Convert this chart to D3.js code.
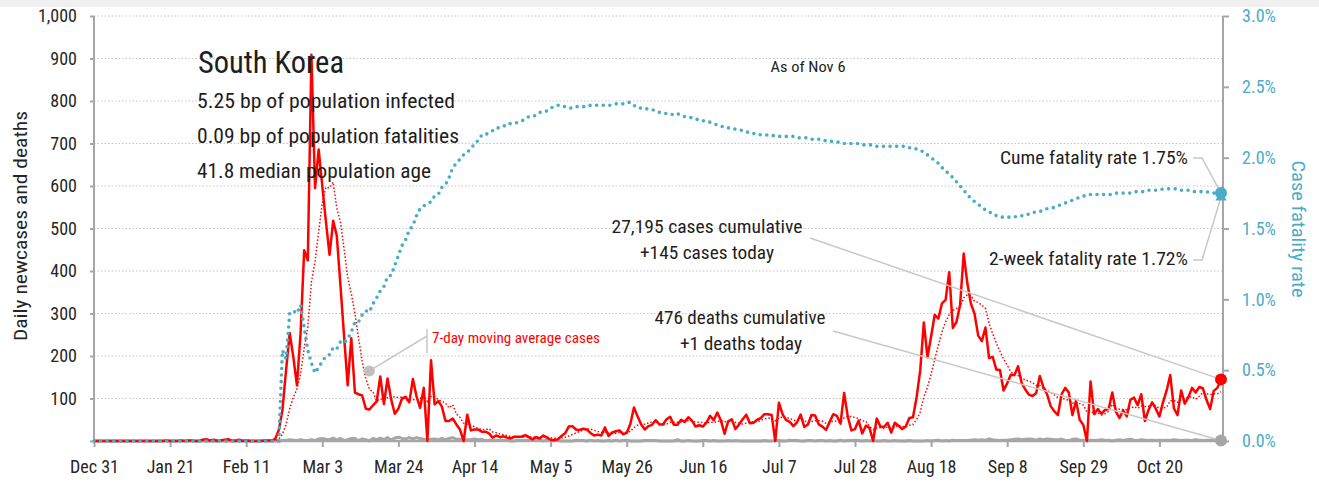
<!DOCTYPE html>
<html><head><meta charset="utf-8">
<script src="https://cdn.jsdelivr.net/npm/d3@7"></script>
<style>
html,body{margin:0;padding:0;background:#fff;}
svg text{font-family:"Roboto Condensed","Liberation Sans Narrow","DejaVu Sans Condensed","Arial Narrow",Roboto,sans-serif;}
</style></head><body>
<svg id="chart" width="1319" height="482"></svg>
<script>
// ---- DATA (daily, Dec 31 2019 .. Nov 6 2020) ----
const startDay = "2019-12-31";
const cases = [
0,0,0,0,0,0,0,0,0,0, 0,0,0,0,0,0,0,0,0,0,
1,0,0,0,1,0,1,1,0,0,
3,4,1,3,0,1,3,4,1,0,
3,0,1,0,0,0,0,1,1,1,
5,26,73,167,254,198,131,253,449,425,
909,595,686,600,516,438,518,483,367,248,
131,242,114,110,107,76,74,84,93,152,
87,147,98,64,76,100,104,91,146,105,
78,125,0,190,86,94,81,47,47,53,
39,27,0,62,25,27,27,22,22,18,
8,13,9,11,8,6,10,10,10,14,
9,4,9,6,13,8,3,2,4,12,
18,34,35,27,26,29,27,19,13,15,
13,32,12,20,23,25,16,19,40,79,
58,39,27,35,38,49,39,39,51,57,
38,38,50,45,56,48,34,37,34,43,
59,49,67,48,17,46,51,28,39,51,
62,42,43,50,54,63,63,61,0,90,
63,49,45,35,44,62,33,39,61,60,
39,34,26,45,63,59,41,113,58,25,
28,48,18,36,31,0,53,34,33,43,
20,43,36,28,34,54,56,103,166,279,
197,246,297,288,324,332,397,266,280,320,
441,371,323,299,248,235,267,195,198,168,
167,119,136,156,155,176,136,121,109,106,
113,153,126,110,82,70,61,110,125,114,
61,95,50,38,0,140,63,75,64,73,
75,114,69,54,72,58,97,102,84,110,
47,73,91,76,58,91,119,155,77,61,
119,88,103,125,114,127,124,97,75,118,
125,145];

const movingAvgCases = [
0,0,0,0,0,0,0,0,0,0, 0,0,0,0,0,0,0,0,0,0,
0.1,0.1,0.1,0.1,0.3,0.3,0.4,0.4,0.4,0.4,
0.9,1.3,1.4,1.7,1.6,1.7,2.1,2.3,1.9,1.7,
1.7,1.7,1.7,1.3,0.7,0.6,0.6,0.3,0.4,0.4,
1.1,4.9,15.3,39.1,75.3,103.4,122.0,157.4,217.9,268.1,
374.1,422.9,492.6,559.6,597.1,595.6,608.9,548.0,515.4,452.9,
385.9,346.7,300.4,242.1,188.4,146.9,122.0,115.3,94.0,99.4,
96.1,101.9,105.0,103.6,102.4,103.4,96.6,97.1,97.0,98.0,
100.0,107.0,92.7,105.0,104.3,96.9,93.4,89.0,77.9,85.4,
63.9,55.4,42.0,39.3,36.1,33.3,29.6,27.1,26.4,29.0,
21.3,19.6,17.0,14.7,12.7,10.4,9.3,9.6,9.1,9.9,
9.6,9.0,9.4,8.9,9.3,9.0,7.4,6.4,6.4,6.9,
8.6,11.6,15.4,18.9,22.3,25.9,28.0,28.1,25.1,22.3,
20.3,21.1,18.7,17.7,18.3,20.0,20.1,21.0,22.1,31.7,
37.1,39.4,39.7,42.4,45.1,46.4,40.7,38.0,39.7,44.0,
44.4,44.4,44.6,45.4,47.9,47.4,44.1,44.0,43.4,42.4,
44.4,43.4,46.1,48.1,45.3,47.0,48.1,43.7,42.3,40.0,
42.0,45.6,45.1,45.0,48.7,52.1,53.9,53.7,47.7,54.4,
56.3,55.6,53.0,49.0,46.6,55.4,47.3,43.9,45.6,47.7,
48.3,46.9,41.7,43.4,46.9,46.6,43.9,54.4,57.9,57.7,
55.3,53.1,47.3,46.6,34.9,26.6,30.6,31.4,29.3,32.9,
30.6,32.3,37.4,33.9,33.9,36.9,38.7,50.6,68.1,102.9,
127.0,157.3,192.0,225.1,256.7,280.4,297.3,307.1,312.0,315.3,
337.1,343.9,342.6,328.6,326.0,319.6,312.0,276.9,252.1,230.0,
211.1,192.7,178.6,162.7,157.0,153.9,149.3,142.7,141.3,137.0,
130.9,130.6,123.4,119.7,114.1,108.6,102.1,101.7,97.7,96.0,
89.0,90.9,88.0,84.7,69.0,71.1,63.9,65.9,61.4,64.7,
70.0,86.3,76.1,74.9,74.4,73.6,77.0,80.9,76.6,82.4,
81.4,81.6,86.3,83.3,77.0,78.0,79.3,94.7,95.3,91.0,
97.1,101.4,103.1,104.0,98.1,105.3,114.3,111.1,109.3,111.4,
111.4,115.9];

const deaths = [
0,0,0,0,0,0,0,0,0,0, 0,0,0,0,0,0,0,0,0,0,
0,0,0,0,0,0,0,0,0,0, 0,0,0,0,0,0,0,0,0,0,
0,0,0,0,0,0,0,0,0,0,
0,0,1,1,3,2,1,3,1,1,
3,1,5,6,4,3,7,2,6,1,
3,6,6,1,5,3,0,6,3,7,
3,8,2,7,9,6,5,8,5,8,
6,4,3,4,5,3,6,3,6,8,
4,4,3,3,3,5,3,4,1,2,
2,2,1,1,2,0,0,2,1,1,
2,1,1,2,0,2,2,1,1,0,
0,0,0,2,1,1,0,2,0,1,
0,0,1,0,2,0,1,2,0,0,
0,0,1,1,1,1,0,0,0,0,
0,3,0,0,1,0,0,0,1,1,
0,1,0,0,0,1,0,1,0,0,
0,0,0,0,0,1,0,0,1,1,
0,0,2,1,1,0,0,1,1,0,
1,1,0,1,0,0,2,0,1,1,
2,1,0,1,0,1,0,0,1,0,
0,1,0,0,0,1,0,0,0,0,
1,0,1,2,0,1,0,2,1,1,
1,1,2,3,2,3,2,5,3,2,
1,2,2,3,4,5,3,4,5,4,
2,5,3,5,4,3,3,4,2,1,
4,5,2,2,1,2,1,2,3,1,
2,0,2,3,1,3,4,2,1,3,
2,1,2,1,2,1,2,1,3,2,
1,2,2,1,3,2,1,2,2,2,
2,1];

// cumulative case fatality rate, percent
const fatalityRate = [
0,0,0,0,0,0,0,0,0,0, 0,0,0,0,0,0,0,0,0,0,
0,0,0,0,0,0,0,0,0,0, 0,0,0,0,0,0,0,0,0,0,
0,0,0,0,0,0,0,0,0,0,
0,0,0.64,0.58,0.90,0.92,0.90,0.96,0.80,0.64,
0.55,0.48,0.52,0.56,0.60,0.61,0.66,0.65,0.70,0.69,
0.72,0.77,0.84,0.84,0.89,0.92,0.91,0.97,1.01,1.06,
1.09,1.16,1.17,1.24,1.31,1.38,1.42,1.49,1.52,1.59,
1.64,1.66,1.67,1.69,1.73,1.74,1.79,1.81,1.86,1.93,
1.96,1.99,2.02,2.04,2.06,2.10,2.12,2.16,2.16,2.18,
2.19,2.21,2.21,2.22,2.24,2.24,2.24,2.25,2.26,2.27,
2.29,2.29,2.30,2.32,2.32,2.33,2.35,2.36,2.37,2.37,
2.36,2.35,2.35,2.36,2.36,2.36,2.36,2.37,2.37,2.37,
2.37,2.37,2.37,2.37,2.38,2.38,2.38,2.39,2.39,2.37,
2.35,2.35,2.35,2.34,2.34,2.33,2.32,2.32,2.31,2.31,
2.30,2.31,2.30,2.29,2.29,2.28,2.27,2.27,2.26,2.26,
2.25,2.24,2.23,2.22,2.22,2.21,2.21,2.20,2.20,2.19,
2.18,2.18,2.17,2.17,2.16,2.16,2.16,2.16,2.15,2.15,
2.15,2.15,2.15,2.15,2.14,2.14,2.14,2.14,2.13,2.13,
2.13,2.12,2.12,2.12,2.11,2.11,2.11,2.10,2.10,2.10,
2.10,2.10,2.09,2.09,2.09,2.09,2.08,2.08,2.08,2.08,
2.08,2.08,2.08,2.08,2.08,2.07,2.07,2.06,2.05,2.04,
2.02,2.00,1.98,1.96,1.93,1.91,1.88,1.86,1.83,1.80,
1.77,1.74,1.71,1.69,1.67,1.65,1.63,1.62,1.60,1.59,
1.58,1.58,1.58,1.58,1.58,1.59,1.59,1.60,1.60,1.61,
1.62,1.62,1.63,1.64,1.64,1.65,1.66,1.67,1.68,1.69,
1.70,1.71,1.72,1.73,1.73,1.74,1.74,1.74,1.74,1.74,
1.74,1.74,1.75,1.75,1.75,1.75,1.75,1.76,1.76,1.76,
1.76,1.77,1.77,1.77,1.77,1.78,1.78,1.78,1.78,1.78,
1.77,1.77,1.77,1.76,1.76,1.76,1.76,1.76,1.75,1.75,
1.75,1.75];

const twoWeekFatalityRate = 1.72;
const leftTicks = [0,100,200,300,400,500,600,700,800,900,1000];
const rightTicks = [0,0.5,1.0,1.5,2.0,2.5,3.0];
const xTickDayOffsets = [0,21,42,63,84,105,126,147,168,189,210,231,252,273,294];
const xTickLabels = ["Dec 31","Jan 21","Feb 11","Mar 3","Mar 24","Apr 14","May 5","May 26","Jun 16","Jul 7","Jul 28","Aug 18","Sep 8","Sep 29","Oct 20"];
const infoLines = ["5.25 bp of population infected","0.09 bp of population fatalities","41.8 median population age"];
const maLabelAnchor = {day: 76, value: 165};

// ---- CHART ----
const svg = d3.select("#chart");
const DAY = 864e5;
const t0 = Date.parse(startDay + "T00:00:00Z");
const dates = cases.map((_, i) => new Date(t0 + i * DAY));
const last = cases.length - 1;

const x = d3.scaleUtc().domain([dates[0], dates[last]]).range([94, 1221]);
const y = d3.scaleLinear().domain([0, 1000]).range([441, 16]);
const y2 = d3.scaleLinear().domain([0, 3]).range([441, 16]);
const X0 = 94, X1 = 1223;
const AX = "#a6a6a6", BLUE = "#4bacc6", RED = "#ff0000", TXT = "#1e1e1e";

svg.append("rect").attr("x",0).attr("y",0).attr("width",1319).attr("height",7).attr("fill","#f0f0f0");

// gridlines
svg.append("g").selectAll("line").data(leftTicks.filter(d => d > 0)).join("line")
  .attr("x1", X0).attr("x2", X1).attr("y1", d => y(d)).attr("y2", d => y(d))
  .attr("stroke", "#c4c4c4").attr("stroke-width", 1).attr("stroke-dasharray", "1.5 2");

function condense(sel, f) {
  sel.each(function () {
    const w = this.getComputedTextLength();
    this.setAttribute("textLength", w * f);
    this.setAttribute("lengthAdjust", "spacingAndGlyphs");
  });
}
function fit(sel, w) { sel.attr("textLength", w).attr("lengthAdjust", "spacingAndGlyphs"); }
const probe = svg.append("text").attr("font-size", 18).text("Dec 31");
const cf = Math.min(1, 53 / probe.node().getComputedTextLength());
probe.remove();

// axes
const gL = svg.append("g").attr("transform", `translate(${X0},0)`)
  .call(d3.axisLeft(y).tickValues(leftTicks).tickSize(4).tickPadding(13)
    .tickFormat(d => d === 0 ? "" : d3.format(",")(d)));
const gR = svg.append("g").attr("transform", `translate(${X1},0)`)
  .call(d3.axisRight(y2).tickValues(rightTicks).tickSize(6).tickPadding(13)
    .tickFormat(d => d.toFixed(1) + "%"));
const gB = svg.append("g").attr("transform", `translate(0,441)`)
  .call(d3.axisBottom(x).tickValues(xTickDayOffsets.map(o => dates[o])).tickSize(6).tickPadding(13)
    .tickFormat((d, i) => xTickLabels[i]));
[gL, gR, gB].forEach(g => {
  g.select(".domain").remove();
  g.selectAll(".tick line").attr("stroke", AX).attr("stroke-width", 2);
  g.selectAll(".tick text").attr("font-size", 18).attr("fill", "#262626");
});
gR.selectAll(".tick text").attr("fill", BLUE);
[gL, gR, gB].forEach(g => condense(g.selectAll(".tick text"), cf));

svg.append("line").attr("x1", X0).attr("x2", X0).attr("y1", 16).attr("y2", 442).attr("stroke", AX).attr("stroke-width", 2);
svg.append("line").attr("x1", X1).attr("x2", X1).attr("y1", 16).attr("y2", 442).attr("stroke", AX).attr("stroke-width", 2);

fit(svg.append("text").attr("transform", "translate(27,226) rotate(-90)").attr("text-anchor", "middle")
  .attr("font-size", 18).attr("fill", "#262626").text("Daily newcases and deaths"), 230);
fit(svg.append("text").attr("transform", "translate(1292,229) rotate(90)").attr("text-anchor", "middle")
  .attr("font-size", 19).attr("fill", BLUE).text("Case fatality rate"), 137);

// series
const idx = d3.range(cases.length);
const lineOf = (arr, sc) => d3.line().x(i => x(dates[i])).y(i => sc(arr[i]));
svg.append("path").datum(idx).attr("d", lineOf(deaths, y)).attr("fill", "none")
  .attr("stroke", AX).attr("stroke-width", 3).attr("stroke-linejoin", "round");
svg.append("line").attr("x1", X0).attr("x2", X1).attr("y1", 441).attr("y2", 441).attr("stroke", AX).attr("stroke-width", 2.5);
svg.append("path").datum(idx).attr("d", lineOf(movingAvgCases, y)).attr("fill", "none")
  .attr("stroke", RED).attr("stroke-width", 1.5).attr("stroke-dasharray", "1.5 2");
svg.append("path").datum(idx).attr("d", lineOf(cases, y)).attr("fill", "none")
  .attr("stroke", RED).attr("stroke-width", 2.5).attr("stroke-linejoin", "round");
svg.append("path").datum(idx).attr("d", lineOf(fatalityRate, y2)).attr("fill", "none")
  .attr("stroke", BLUE).attr("stroke-width", 3.6).attr("stroke-linecap", "round").attr("stroke-dasharray", "0 6.6");

// leader lines
const LC = "#c8c8c8";
const xe = x(dates[last]);
function poly(pts) {
  svg.append("path").attr("d", d3.line()(pts)).attr("fill", "none").attr("stroke", LC).attr("stroke-width", 1.5);
}
poly([[810, 238], [xe, y(cases[last])]]);
poly([[833, 331], [xe, y(deaths[last])]]);
poly([[1193, 158], [1202, 158], [xe, y2(fatalityRate[last])]]);
poly([[1193, 260], [1202, 260], [xe, y2(twoWeekFatalityRate)]]);
const ma = [x(dates[maLabelAnchor.day]), y(maLabelAnchor.value)];
poly([ma, [427, 336]]);
poly([[427, 329], [427, 353]]);

// markers
svg.append("circle").attr("cx", ma[0]).attr("cy", ma[1]).attr("r", 5.5).attr("fill", "#bfbfbf");
svg.append("circle").attr("cx", xe).attr("cy", y(deaths[last])).attr("r", 6).attr("fill", AX);
svg.append("circle").attr("cx", xe).attr("cy", y(cases[last])).attr("r", 6).attr("fill", RED);
svg.append("path").attr("d", d3.symbol(d3.symbolTriangle, 55)()).attr("fill", BLUE)
  .attr("transform", `translate(${xe},${y2(twoWeekFatalityRate)})`);
svg.append("circle").attr("cx", xe).attr("cy", y2(fatalityRate[last])).attr("r", 6).attr("fill", BLUE);

// texts
const tx = (xx, yy, s, size, w, anchor, col) => {
  const t = svg.append("text").attr("x", xx).attr("y", yy).attr("font-size", size)
    .attr("text-anchor", anchor || "start").attr("fill", col || TXT).text(s);
  if (w) fit(t, w);
  return t;
};
tx(198, 73, "South Korea", 31, 146);
tx(197, 108, infoLines[0], 21, 258);
tx(197, 143, infoLines[1], 21, 262);
tx(197, 178, infoLines[2], 21, 234);
tx(808, 72, "As of Nov 6", 15, 75, "middle");
tx(1188, 164, "Cume fatality rate " + fatalityRate[last].toFixed(2) + "%", 18, 188, "end");
tx(1188, 265, "2-week fatality rate " + twoWeekFatalityRate.toFixed(2) + "%", 18, 199, "end");
tx(707, 233, "27,195 cases cumulative", 18, 191, "middle");
tx(707, 259, "+" + cases[last] + " cases today", 18, 134, "middle");
tx(740, 324, "476 deaths cumulative", 18, 171, "middle");
tx(741, 350, "+" + deaths[last] + " deaths today", 18, 122, "middle");
tx(432, 343, "7-day moving average cases", 14, 168, "start", RED);
</script>
</body></html>
